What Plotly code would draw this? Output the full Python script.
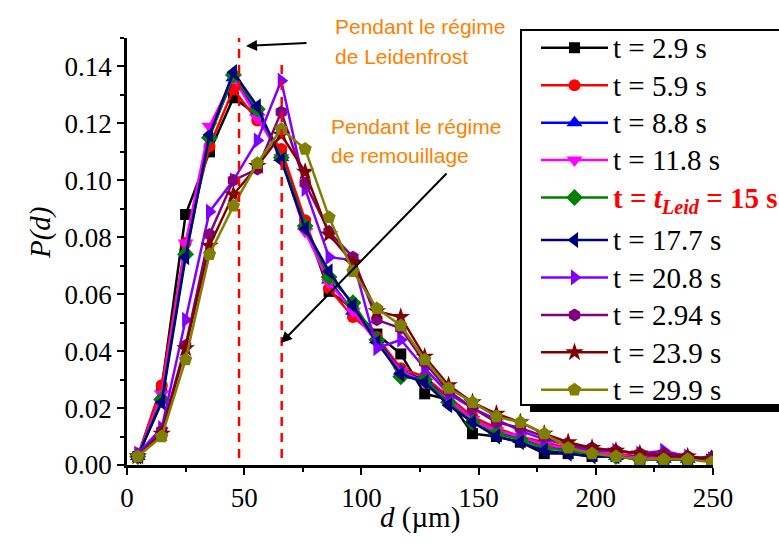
import plotly.graph_objects as go

# Droplet diameter bins (µm)
d_um = [4.6, 14.8, 25.0, 35.2, 45.4, 55.6, 65.8, 76.0, 86.2, 96.4, 106.6, 116.8,
        127.0, 137.2, 147.4, 157.6, 167.8, 178.0, 188.2, 198.4, 208.6, 218.8,
        229.0, 239.2, 249.4]

# Size distributions P(d) at each instant
p_2_9 = [0.003, 0.027, 0.088, 0.110, 0.129, 0.123, 0.110, 0.085, 0.061, 0.055, 0.046, 0.039,
         0.025, 0.023, 0.011, 0.010, 0.008, 0.004, 0.004, 0.003, 0.003, 0.002, 0.002, 0.002, 0.002]
p_5_9 = [0.003, 0.028, 0.078, 0.112, 0.132, 0.121, 0.111, 0.086, 0.062, 0.052, 0.045, 0.034,
         0.031, 0.024, 0.017, 0.013, 0.010, 0.008, 0.006, 0.005, 0.004, 0.003, 0.003, 0.002, 0.002]
p_8_8 = [0.003, 0.024, 0.075, 0.116, 0.136, 0.124, 0.108, 0.084, 0.065, 0.054, 0.044, 0.033,
         0.030, 0.023, 0.016, 0.012, 0.009, 0.007, 0.005, 0.004, 0.003, 0.003, 0.002, 0.002, 0.003]
p_11_8 = [0.003, 0.025, 0.078, 0.119, 0.136, 0.122, 0.108, 0.082, 0.064, 0.054, 0.043, 0.033,
          0.029, 0.023, 0.016, 0.012, 0.010, 0.007, 0.006, 0.004, 0.004, 0.002, 0.003, 0.002, 0.002]
p_15 = [0.003, 0.023, 0.074, 0.115, 0.137, 0.125, 0.108, 0.084, 0.066, 0.057, 0.044, 0.031,
        0.030, 0.022, 0.015, 0.011, 0.009, 0.006, 0.005, 0.004, 0.003, 0.002, 0.002, 0.002, 0.002]
p_17_7 = [0.003, 0.022, 0.073, 0.116, 0.138, 0.126, 0.107, 0.083, 0.068, 0.056, 0.043, 0.032,
          0.029, 0.021, 0.015, 0.010, 0.008, 0.005, 0.004, 0.003, 0.003, 0.002, 0.002, 0.002, 0.002]
p_20_8 = [0.004, 0.013, 0.051, 0.089, 0.100, 0.114, 0.135, 0.097, 0.073, 0.072, 0.041, 0.044,
          0.034, 0.025, 0.020, 0.016, 0.012, 0.009, 0.007, 0.005, 0.005, 0.004, 0.005, 0.003, 0.002]
p_2_94 = [0.003, 0.012, 0.042, 0.081, 0.100, 0.104, 0.124, 0.099, 0.082, 0.073, 0.051, 0.048,
          0.036, 0.026, 0.020, 0.015, 0.013, 0.010, 0.007, 0.006, 0.005, 0.004, 0.004, 0.003, 0.002]
p_23_9 = [0.003, 0.011, 0.041, 0.077, 0.095, 0.105, 0.116, 0.103, 0.081, 0.071, 0.054, 0.052,
          0.038, 0.028, 0.022, 0.018, 0.015, 0.011, 0.008, 0.006, 0.005, 0.004, 0.003, 0.003, 0.002]
p_29_9 = [0.003, 0.010, 0.037, 0.074, 0.091, 0.106, 0.118, 0.111, 0.087, 0.068, 0.055, 0.049,
          0.037, 0.027, 0.022, 0.017, 0.015, 0.011, 0.006, 0.004, 0.003, 0.002, 0.002, 0.002, 0.001]

series = [p_2_9, p_5_9, p_8_8, p_11_8, p_15, p_17_7, p_20_8, p_2_94, p_23_9, p_29_9]
labels = ["t = 2.9 s", "t = 5.9 s", "t = 8.8 s", "t = 11.8 s",
          "<b><span style='color:#FF0000'>t = <i>t</i><sub><i>Leid</i></sub> = 15 s</span></b>",
          "t = 17.7 s", "t = 20.8 s", "t = 2.94 s", "t = 23.9 s", "t = 29.9 s"]
# Leidenfrost regime up to t_Leid, rewetting afterwards
regimes = ["leidenfrost"] * 5 + ["remouillage"] * 5
colors = ["#000000", "#FF0000", "#0000FF", "#FF00FF", "#008000",
          "#000080", "#8000FF", "#800080", "#800000", "#808000"]
symbols = ["square", "circle", "triangle-up", "triangle-down", "diamond",
           "triangle-left", "triangle-right", "hexagon", "star", "pentagon"]
sizes = [11, 12, 14, 14, 13, 14, 14, 13, 14, 14]

# Vertical markers for the two regimes (µm)
d_leidenfrost = 47.8
d_remouillage = 66.0

SERIF = "Liberation Serif, Times New Roman, serif"
SANS = "Liberation Sans, Arial, sans-serif"

W, H = 779, 546
ML, MR, MT, MB = 127, 66, 38, 81
PW, PH = W - ML - MR, H - MT - MB


def px(x):
    return (x - ML) / PW


def py(y):
    return (H - MB - y) / PH


fig = go.Figure()
for vals, name, grp, col, sym, sz in zip(series, labels, regimes, colors, symbols, sizes):
    fig.add_trace(go.Scatter(
        x=d_um, y=vals, mode="lines+markers", legendgroup=grp,
        name="<span style='font-size:29px'>" + name + "</span>",
        line=dict(color=col, width=2.5),
        marker=dict(symbol=sym, size=sz, color=col, line=dict(width=0)),
    ))

shapes = [
    dict(type="line", xref="x", yref="y", x0=d_leidenfrost, x1=d_leidenfrost,
         y0=0.0025, y1=0.15, line=dict(color="#FF0000", width=2.5, dash="9px,7px"),
         layer="above"),
    dict(type="line", xref="x", yref="y", x0=d_remouillage, x1=d_remouillage,
         y0=0.0025, y1=0.142, line=dict(color="#FF0000", width=2.5, dash="9px,7px"),
         layer="above"),
    # legend frame: drop shadow, then white box with black border
    dict(type="rect", xref="paper", yref="paper", x0=px(530), x1=px(800),
         y0=py(412), y1=py(40), fillcolor="#000000", line=dict(width=0), layer="above"),
    dict(type="rect", xref="paper", yref="paper", x0=px(521), x1=px(800),
         y0=py(405), y1=py(30), fillcolor="#FFFFFF",
         line=dict(color="#000000", width=2), layer="above"),
]

orange = "#FF8000"
annotations = [
    dict(text="Pendant le régime", x=px(333), y=py(27), xref="paper", yref="paper",
         xanchor="left", yanchor="middle", showarrow=False,
         font=dict(family=SANS, size=21, color=orange)),
    dict(text="de Leidenfrost", x=px(333), y=py(56), xref="paper", yref="paper",
         xanchor="left", yanchor="middle", showarrow=False,
         font=dict(family=SANS, size=21, color=orange)),
    dict(text="Pendant le régime", x=px(329), y=py(126), xref="paper", yref="paper",
         xanchor="left", yanchor="middle", showarrow=False,
         font=dict(family=SANS, size=21, color=orange)),
    dict(text="de remouillage", x=px(329), y=py(155), xref="paper", yref="paper",
         xanchor="left", yanchor="middle", showarrow=False,
         font=dict(family=SANS, size=21, color=orange)),
    dict(text="", x=px(246), y=py(46), xref="paper", yref="paper",
         ax=62, ay=-3, showarrow=True, arrowhead=2, arrowsize=1.1,
         arrowwidth=2, arrowcolor="#000000", standoff=0),
    dict(text="", x=px(281), y=py(343), xref="paper", yref="paper",
         ax=167, ay=-171, showarrow=True, arrowhead=2, arrowsize=1.1,
         arrowwidth=2, arrowcolor="#000000", standoff=0),
    # axis titles
    dict(text="<i>P(d)</i>", x=px(41), y=py(233), xref="paper", yref="paper",
         xanchor="center", yanchor="middle", textangle=-90, showarrow=False,
         font=dict(family=SERIF, size=29, color="black")),
    dict(text="<i>d</i> (µm)", x=px(420), y=py(517), xref="paper", yref="paper",
         xanchor="center", yanchor="middle", showarrow=False,
         font=dict(family=SERIF, size=29, color="black")),
]

fig.update_layout(
    width=W, height=H,
    margin=dict(l=ML, r=MR, t=MT, b=MB, pad=0, autoexpand=False),
    paper_bgcolor="white", plot_bgcolor="white",
    shapes=shapes, annotations=annotations,
    legend=dict(
        x=px(520), y=py(24), xanchor="left", yanchor="top",
        bgcolor="rgba(0,0,0,0)", borderwidth=0, maxheight=800,
        font=dict(family=SERIF, size=26.5, color="black"),
        itemwidth=67, indentation=16, traceorder="grouped", tracegroupgap=5,
    ),
    xaxis=dict(
        range=[0, 250], tickvals=[0, 50, 100, 150, 200, 250],
        showline=True, linecolor="black", linewidth=2.5,
        ticks="outside", ticklen=7, tickwidth=2, tickcolor="black",
        showgrid=False, zeroline=False,
        tickfont=dict(family=SERIF, size=27, color="black"),
        minor=dict(dtick=25, ticks="outside", ticklen=4, tickwidth=2, tickcolor="black"),
    ),
    yaxis=dict(
        range=[0, 0.15], dtick=0.02, tickformat=".2f",
        showline=True, linecolor="black", linewidth=2.5,
        ticks="outside", ticklen=7, tickwidth=2, tickcolor="black",
        showgrid=False, zeroline=False,
        tickfont=dict(family=SERIF, size=27, color="black"),
        minor=dict(dtick=0.01, ticks="outside", ticklen=4, tickwidth=2, tickcolor="black"),
    ),
)

fig.write_html("out.html")
